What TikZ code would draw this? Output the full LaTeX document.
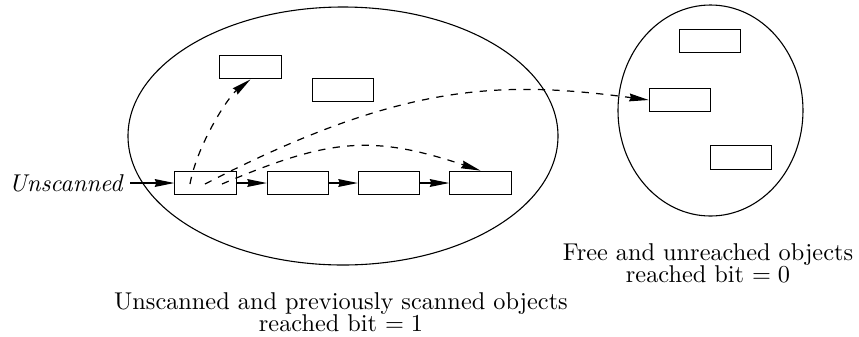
\documentclass[tikz,border=0pt]{standalone}
\usetikzlibrary{arrows.meta}
\begin{document}
\begin{tikzpicture}[x=0.4115pt,y=-0.4115pt,
  obj/.style={draw,line width=0.5pt,minimum width=25.2pt,minimum height=9.7pt,inner sep=0pt},
  region/.style={draw,line width=0.45pt},
  link/.style={line width=0.5pt,-{Stealth[length=8pt,width=3.2pt,inset=0.6pt]}},
  ref/.style={link,dashed},
  caption/.style={align=center,anchor=north,inner sep=0pt,font=\fontsize{10}{9}\selectfont}]
\useasboundingbox (0,0) rectangle (859,336);
% regions
\draw[region] (343,136) ellipse [x radius=215, y radius=129];
\draw[region] (710.5,110.5) ellipse [x radius=92.5, y radius=105.5];
% objects in the scanned region
\node[obj] (bA) at (250.5,67) {};
\node[obj] (bB) at (343,90) {};
\node[obj] (b1) at (205.5,183) {};
\node[obj] (b2) at (298,183) {};
\node[obj] (b3) at (389,183) {};
\node[obj] (b4) at (480.5,183) {};
% free objects
\node[obj] (r1) at (710,41) {};
\node[obj] (r2) at (680,100) {};
\node[obj] (r3) at (741,157.5) {};
% label
\node[anchor=east,font=\itshape,inner sep=0pt] (unsc) at (123,183) {Unscanned};
\coordinate (u0) at ([xshift=2.9pt]unsc.east);
\draw[link] (u0) -- (b1.west);
\draw[link] (b1) -- (b2);
\draw[link] (b2) -- (b3);
\draw[link] (b3) -- (b4);
% references from the scanned object
\coordinate (s1) at (190,184);
\coordinate (s2) at (205,184);
\coordinate (s3) at (222,184);
\draw[ref] (s1) .. controls (197,145) and (228,97) .. (bA.south);
\draw[ref] (s2) .. controls (401,83) and (499,80) .. (r2.west);
\draw[ref] (s3) .. controls (328,139) and (371,134) .. (b4.north);
% captions
\node[caption] (capL) at (341,292) {Unscanned and previously scanned objects\\reached bit $= 1$};
\node[caption] (capR) at (708,243) {Free and unreached objects\\reached bit $= 0$};
\end{tikzpicture}
\end{document}
